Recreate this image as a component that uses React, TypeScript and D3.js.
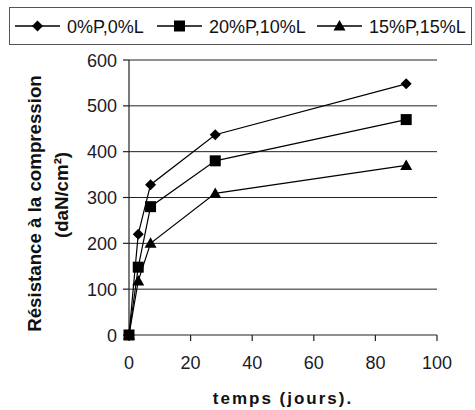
import React from "react";
import * as d3 from "d3";

const days = [0, 3, 7, 28, 90];
const seriesNames = ["0%P,0%L", "20%P,10%L", "15%P,15%L"];
const s1 = [0, 220, 328, 437, 548];
const s2 = [0, 148, 280, 380, 470];
const s3 = [0, 118, 200, 309, 370];
const seriesValues = [s1, s2, s3];
const markers = ["diamond", "square", "triangle"];
const yTicks = [0, 100, 200, 300, 400, 500, 600];
const xTicks = [0, 20, 40, 60, 80, 100];

const W = 475, H = 410;
const x = d3.scaleLinear().domain([0, 100]).range([129, 437]);
const y = d3.scaleLinear().domain([0, 600]).range([335, 60]);

function Marker({ type, cx, cy }: { type: string; cx: number; cy: number }) {
  if (type === "diamond") {
    const r = 5.5;
    return <path d={`M${cx},${cy - r}L${cx + r},${cy}L${cx},${cy + r}L${cx - r},${cy}Z`} fill="#000" />;
  }
  if (type === "square") {
    const r = 5.5;
    return <rect x={cx - r} y={cy - r} width={2 * r} height={2 * r} fill="#000" />;
  }
  const r = 6;
  return <path d={`M${cx},${cy - r}L${cx + r},${cy + 4.5}L${cx - r},${cy + 4.5}Z`} fill="#000" />;
}

export default function App() {
  const line = d3.line<number>().x((_, i) => x(days[i])).y((v) => y(v));
  const font = "'Liberation Sans', Arial, sans-serif";
  const legendX = [15, 157, 317];
  return (
    <svg width={W} height={H} style={{ position: "absolute", left: 0, top: 0, background: "#fff" }} fontFamily={font}>
      <rect x={0} y={0} width={W} height={H} fill="#fff" />
      {/* legend */}
      <rect x={9.5} y={7.5} width={462} height={37} fill="#fff" stroke="#555" strokeWidth={1} />
      {seriesNames.map((n, i) => (
        <g key={n}>
          <line x1={legendX[i]} x2={legendX[i] + 45} y1={26} y2={26} stroke="#000" strokeWidth={1.3} />
          <Marker type={markers[i]} cx={legendX[i] + 22.5} cy={26} />
          <text x={legendX[i] + 52} y={32.5} fontSize={18} fill="#111">{n}</text>
        </g>
      ))}
      {/* grid */}
      {yTicks.filter((t) => t > 0).map((t) => (
        <line key={t} x1={x(0)} x2={x(100)} y1={y(t)} y2={y(t)} stroke="#222" strokeWidth={1} />
      ))}
      {/* axes */}
      <line x1={x(0)} x2={x(0)} y1={y(600)} y2={y(0)} stroke="#222" strokeWidth={1.2} />
      <line x1={x(0)} x2={x(100)} y1={y(0)} y2={y(0)} stroke="#222" strokeWidth={1.2} />
      {yTicks.map((t) => (
        <g key={t}>
          <line x1={x(0) - 6} x2={x(0)} y1={y(t)} y2={y(t)} stroke="#222" strokeWidth={1.2} />
          <text x={x(0) - 12} y={y(t) + 6.5} textAnchor="end" fontSize={18} fill="#1a1a2a">{t}</text>
        </g>
      ))}
      {xTicks.map((t) => (
        <g key={t}>
          <line x1={x(t)} x2={x(t)} y1={y(0)} y2={y(0) + 6} stroke="#222" strokeWidth={1.2} />
          <text x={x(t)} y={368.5} textAnchor="middle" fontSize={18} fill="#1a1a2a">{t}</text>
        </g>
      ))}
      {/* titles */}
      <text x={283} y={404} textAnchor="middle" fontSize={17} fontWeight="bold" letterSpacing={2} fill="#111">temps (jours).</text>
      <text transform="translate(41,203.5) rotate(-90)" textAnchor="middle" fontSize={18.7} fontWeight="bold" fill="#111">Résistance à la compression</text>
      <text transform="translate(68,195) rotate(-90)" textAnchor="middle" fontSize={18.7} fontWeight="bold" fill="#111">(daN/cm²)</text>
      {/* series */}
      {seriesValues.map((vals, si) => (
        <g key={si}>
          <path d={line(vals) || ""} fill="none" stroke="#000" strokeWidth={1.2} />
          {vals.map((v, i) => (
            <Marker key={i} type={markers[si]} cx={x(days[i])} cy={y(v)} />
          ))}
        </g>
      ))}
    </svg>
  );
}
